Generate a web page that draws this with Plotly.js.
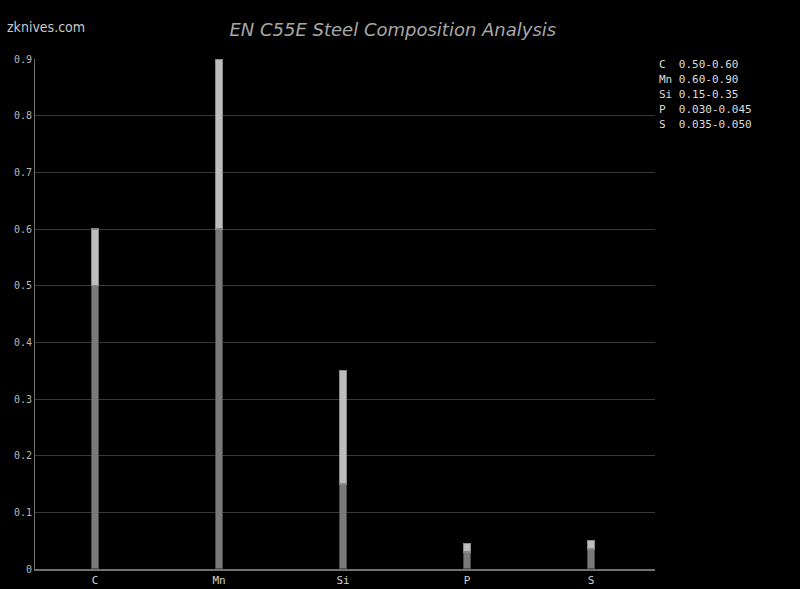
<!DOCTYPE html>
<html>
<head>
<meta charset="utf-8">
<script src="https://cdn.plot.ly/plotly-3.0.1.min.js"></script>
<style>html,body{margin:0;padding:0;background:#000;}#chart{width:800px;height:589px;}</style>
</head>
<body>
<div id="chart"></div>
<script>
const elements = ["C", "Mn", "Si", "P", "S"];
const minValues = [0.50, 0.60, 0.15, 0.030, 0.035];
const maxValues = [0.60, 0.90, 0.35, 0.045, 0.050];
const rangeLabels = ["0.50-0.60", "0.60-0.90", "0.15-0.35", "0.030-0.045", "0.035-0.050"];

const rangeValues = maxValues.map((m, i) => m - minValues[i]);
const mono = "DejaVu Sans Mono, monospace";

const traces = [
  {
    type: "bar", x: elements, y: minValues, width: 0.056,
    marker: {color: "#7a7a7a", line: {color: "#4a4a4a", width: 1.5}},
    hoverinfo: "skip"
  },
  {
    type: "bar", x: elements, y: rangeValues, width: 0.056,
    marker: {color: "#bdbdbd", line: {color: "#8a8a8a", width: 1.5}},
    hoverinfo: "skip"
  }
];

const annotations = elements.map((e, i) => ({
  xref: "paper", yref: "paper",
  x: 1.004, y: 1 - i * 0.0294 - 0.01,
  xanchor: "left", yanchor: "middle", showarrow: false,
  text: (e + "  ").slice(0, 3) + rangeLabels[i],
  font: {family: mono, size: 11, color: "#dcdcdc"}
}));
annotations.push({
  xref: "paper", yref: "paper", x: -0.048, y: 1.063,
  xanchor: "left", yanchor: "middle", showarrow: false,
  text: "zknives.com",
  font: {family: "DejaVu Sans Condensed, DejaVu Sans", size: 14, color: "#c8c8c8"}
});

const layout = {
  width: 800, height: 589,
  paper_bgcolor: "#000", plot_bgcolor: "#000",
  barmode: "stack", showlegend: false,
  margin: {l: 35, r: 145, t: 59, b: 20, pad: 0},
  title: {
    text: "<i>EN C55E Steel Composition Analysis</i>",
    x: 0.491, xref: "container", xanchor: "center",
    y: 1 - 30 / 589, yref: "container", yanchor: "middle",
    font: {family: "DejaVu Sans", size: 18, color: "#a8a8a8"}
  },
  xaxis: {
    type: "category", range: [-0.484, 4.516],
    showgrid: false, showline: true, linecolor: "#707070", linewidth: 2,
    ticks: "", tickfont: {family: mono, size: 11, color: "#d0d0d0"},
    zeroline: false, fixedrange: true
  },
  yaxis: {
    range: [0, 0.9], dtick: 0.1,
    showgrid: true, gridcolor: "#383838", gridwidth: 1,
    showline: true, linecolor: "#707070", linewidth: 1,
    ticks: "", tickfont: {family: mono, size: 10, color: "#b8b8b8"},
    zeroline: false, fixedrange: true
  },
  annotations: annotations
};

Plotly.newPlot("chart", traces, layout, {displayModeBar: false, staticPlot: true});
</script>
</body>
</html>
